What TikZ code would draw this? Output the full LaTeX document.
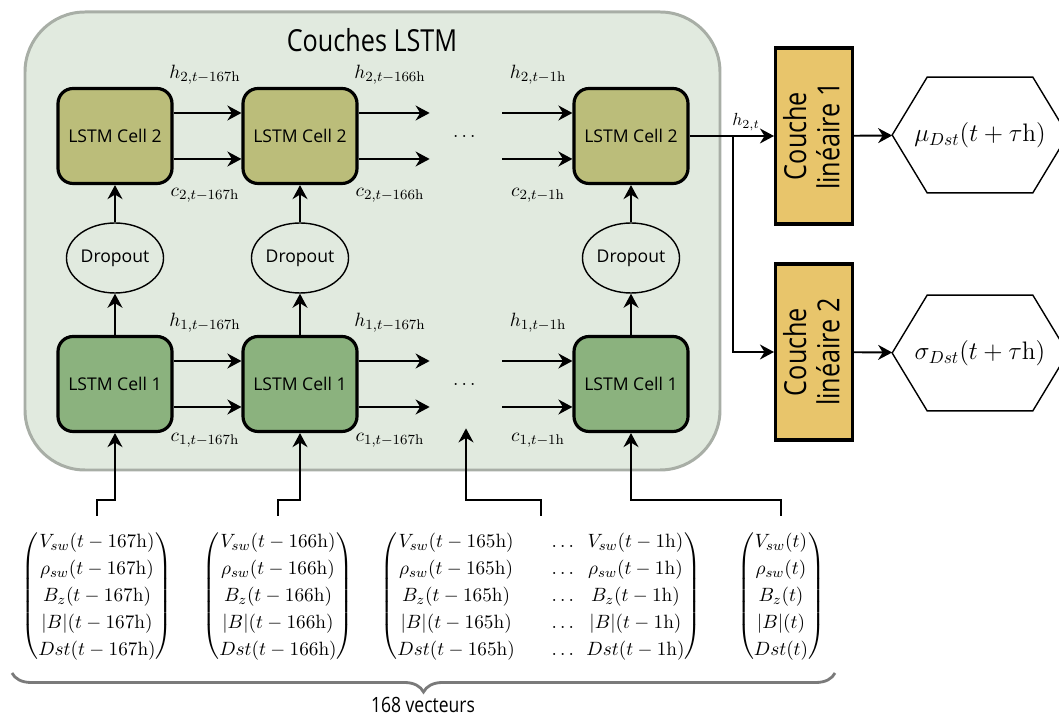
\documentclass[tikz,border=0pt,11pt]{standalone}
\usepackage{amsmath}
\usepackage{fontspec}
\setsansfont{Open Sans}
\newfontfamily\condfont[FakeStretch=0.83]{Open Sans}
\usetikzlibrary{positioning, arrows.meta, shapes.geometric, decorations.pathreplacing}
\definecolor{lstmBack}{HTML}{E1EADF}
\definecolor{lstmFrame}{HTML}{A8AEA6}
\definecolor{cellTop}{HTML}{BBBD7A}
\definecolor{cellLow}{HTML}{8BB27E}
\definecolor{linGold}{HTML}{E8C56B}
\definecolor{braceGrey}{HTML}{7A7A7A}
\newcommand{\hU}{\mathrm{h}}
\renewcommand{\arraystretch}{1.13}

\begin{document}
\begin{tikzpicture}[x=0.02cm, y=-0.02cm,
    >={Stealth[length=8pt, width=8.5pt]},
    arr/.style={->, line width=1.1pt},
    frame/.style={draw=lstmFrame, fill=lstmBack, line width=1.7pt, rounded corners=1.2cm},
    cell/.style={draw, line width=1.8pt, rounded corners=0.3cm, minimum width=2.28cm,
                 minimum height=1.9cm, font=\sffamily\small},
    drop/.style={draw, ellipse, line width=0.8pt, minimum width=1.76cm, minimum height=1.4cm,
                 inner sep=0pt, font=\sffamily\small},
    gap/.style={minimum width=1.44cm, minimum height=1.76cm, inner sep=0pt},
    lab/.style={inner sep=1pt},
    vec/.style={inner sep=7pt},
    lin/.style={draw, line width=1.8pt, fill=linGold, minimum width=1.44cm,
                minimum height=3.52cm, inner sep=0pt, font=\condfont\LARGE},
    hexa/.style={minimum width=3.5cm, minimum height=2.3cm, inner sep=0pt, font=\Large},
    brc/.style={decorate, decoration={brace, mirror, amplitude=0.38cm},
                draw=braceGrey, line width=1.6pt}]
  \useasboundingbox (0,0) rectangle (1059,715);

  % couches LSTM
  \draw[frame] (25,12) rectangle (720,470);
  \node (ttl) at (372,40) {\condfont\LARGE Couches LSTM};

  \node[cell, fill=cellTop] (c2a) at (115,136) {LSTM Cell 2};
  \node[cell, fill=cellTop] (c2b) at (300,136) {LSTM Cell 2};
  \node[gap] (d2) at (466,136) {$\dots$};
  \node[cell, fill=cellTop] (c2c) at (631,136) {LSTM Cell 2};

  \node[drop] (oa) at (115,258) {Dropout};
  \node[drop] (ob) at (300,258) {Dropout};
  \node[drop] (oc) at (631,258) {Dropout};

  \node[cell, fill=cellLow] (c1a) at (115,384) {LSTM Cell 1};
  \node[cell, fill=cellLow] (c1b) at (300,384) {LSTM Cell 1};
  \node[gap] (d1) at (466,384) {$\dots$};
  \node[cell, fill=cellLow] (c1c) at (631,384) {LSTM Cell 1};

  \foreach \a/\b in {c2a/c2b, c2b/d2, d2/c2c, c1a/c1b, c1b/d1, d1/c1c} {
    \draw[arr] ([yshift=0.46cm]\a.east) -- ([yshift=0.46cm]\b.west);
    \draw[arr] ([yshift=-0.46cm]\a.east) -- ([yshift=-0.46cm]\b.west);
  }
  \foreach \i in {a,b,c} {
    \draw[arr] (c1\i) -- (o\i);
    \draw[arr] (o\i) -- (c2\i);
  }

  \node[lab] (h2a) at (205,75) {$h_{2,t-167\hU}$};
  \node[lab] (k2a) at (205,195) {$c_{2,t-167\hU}$};
  \node[lab] (h2b) at (390,75) {$h_{2,t-166\hU}$};
  \node[lab] (k2b) at (390,195) {$c_{2,t-166\hU}$};
  \node[lab] (h2c) at (538,75) {$h_{2,t-1\hU}$};
  \node[lab] (k2c) at (538,195) {$c_{2,t-1\hU}$};
  \node[lab] (h1a) at (205,323) {$h_{1,t-167\hU}$};
  \node[lab] (k1a) at (205,440) {$c_{1,t-167\hU}$};
  \node[lab] (h1b) at (390,323) {$h_{1,t-167\hU}$};
  \node[lab] (k1b) at (390,440) {$c_{1,t-167\hU}$};
  \node[lab] (h1c) at (538,323) {$h_{1,t-1\hU}$};
  \node[lab] (k1c) at (538,440) {$c_{1,t-1\hU}$};

  % vecteurs d'entree
  \node[vec] (m1) at (97,596) {$\begin{pmatrix}
      V_{sw}(t-167\hU)\\ \rho_{sw}(t-167\hU)\\ B_z(t-167\hU)\\ |B|(t-167\hU)\\ Dst(t-167\hU)
    \end{pmatrix}$};
  \node[vec] (m2) at (278,596) {$\begin{pmatrix}
      V_{sw}(t-166\hU)\\ \rho_{sw}(t-166\hU)\\ B_z(t-166\hU)\\ |B|(t-166\hU)\\ Dst(t-166\hU)
    \end{pmatrix}$};
  \node[vec] (m3) at (541,596) {$\begin{pmatrix}
      V_{sw}(t-165\hU) & \quad\dots\hspace{-3pt} & V_{sw}(t-1\hU)\\
      \rho_{sw}(t-165\hU) & \quad\dots\hspace{-3pt} & \rho_{sw}(t-1\hU)\\
      B_z(t-165\hU) & \quad\dots\hspace{-3pt} & B_z(t-1\hU)\\
      |B|(t-165\hU) & \quad\dots\hspace{-3pt} & |B|(t-1\hU)\\
      Dst(t-165\hU) & \quad\dots\hspace{-3pt} & Dst(t-1\hU)
    \end{pmatrix}$};
  \node[vec] (m4) at (781,596) {$\begin{pmatrix}
      V_{sw}(t)\\ \rho_{sw}(t)\\ B_z(t)\\ |B|(t)\\ Dst(t)
    \end{pmatrix}$};

  \coordinate (jn) at (0,500);
  \draw[arr] (m1.north) -- (m1.north |- jn) -| (c1a.south);
  \draw[arr] (m2.north) -- (m2.north |- jn) -| (c1b.south);
  \draw[arr] (m3.north) -- (m3.north |- jn) -| (d1.south);
  \draw[arr] (m4.north) -- (m4.north |- jn) -| (c1c.south);

  \draw[brc] (12,673) -- (835,673);
  \node (nb) at (423,705) {\condfont\large 168 vecteurs};

  % couches lineaires et sorties
  \node[lin] (lin1) at (814,136)
    {\rotatebox{90}{\begin{tabular}{@{}c@{}}Couche\\[-6pt]linéaire 1\end{tabular}}};
  \node[lin] (lin2) at (814,352)
    {\rotatebox{90}{\begin{tabular}{@{}c@{}}Couche\\[-6pt]linéaire 2\end{tabular}}};
  \node[hexa] (mu) at (980,135) {$\mu_{Dst}(t+\tau\hU)$};
  \node[hexa] (sg) at (980,353) {$\sigma_{Dst}(t+\tau\hU)$};
  \foreach \n in {mu, sg}
    \draw[line width=0.8pt] (\n.west) -- ([xshift=0.7cm]\n.north west)
      -- ([xshift=-0.7cm]\n.north east) -- (\n.east)
      -- ([xshift=-0.7cm]\n.south east) -- ([xshift=0.7cm]\n.south west) -- cycle;

  \coordinate (br) at (733,136);
  \draw[arr] (c2c.east) -- (lin1.west);
  \draw[arr] (br) |- (lin2.west);
  \node[lab] (h2t) at (746,122) {\small$h_{2,t}$};
  \draw[arr] (lin1) -- (mu);
  \draw[arr] (lin2) -- (sg);
\end{tikzpicture}
\end{document}
